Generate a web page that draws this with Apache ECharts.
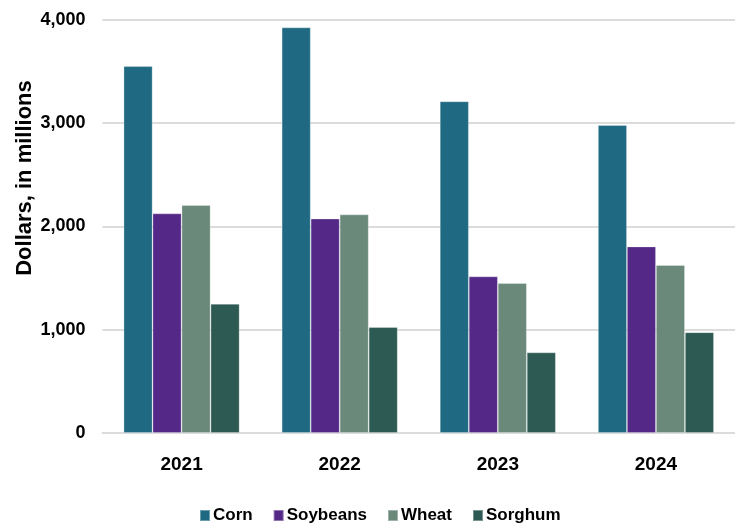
<!DOCTYPE html>
<html>
<head>
<meta charset="utf-8">
<script src="https://cdn.jsdelivr.net/npm/echarts@6/dist/echarts.min.js"></script>
<style>
  html, body { margin: 0; padding: 0; background: #fff; }
  #chart { width: 735px; height: 523px; }
</style>
</head>
<body>
<div id="chart"></div>
<script>
// Crop sales by year, dollars in millions
const years = ['2021', '2022', '2023', '2024'];
const corn = [3550, 3925, 3210, 2980];
const soybeans = [2125, 2075, 1515, 1805];
const wheat = [2205, 2115, 1450, 1625];
const sorghum = [1250, 1025, 780, 975];
const yTicks = { min: 0, max: 4000, interval: 1000 };

const seriesNames = ['Corn', 'Soybeans', 'Wheat', 'Sorghum'];
const seriesValues = [corn, soybeans, wheat, sorghum];
const seriesColors = ['#1f6a82', '#532886', '#6b897a', '#2d5a53'];

const baseFont = '"Liberation Sans", Arial, sans-serif';

const chart = echarts.init(document.getElementById('chart'), null, { renderer: 'canvas' });

chart.setOption({
  animation: false,
  backgroundColor: '#ffffff',
  grid: { left: 102.5, top: 19.7, width: 640, height: 413.3 },
  legend: {
    data: seriesNames,
    left: 194,
    top: 502,
    itemWidth: 10,
    itemHeight: 11,
    itemGap: 20,
    icon: 'rect',
    textStyle: {
      fontFamily: baseFont,
      fontWeight: 'bold',
      fontSize: 17,
      color: '#000',
      padding: [0, 0, 0, -2]
    }
  },
  xAxis: {
    type: 'category',
    data: years,
    axisTick: { show: false },
    axisLine: { lineStyle: { color: '#dcdcdc', width: 2 } },
    axisLabel: {
      margin: 22,
      fontFamily: baseFont,
      fontWeight: 'bold',
      fontSize: 19,
      color: '#000'
    }
  },
  yAxis: {
    type: 'value',
    min: yTicks.min,
    max: yTicks.max,
    interval: yTicks.interval,
    axisLine: { show: false },
    axisTick: { show: false },
    splitLine: { lineStyle: { color: '#dcdcdc', width: 2 } },
    axisLabel: {
      margin: 17,
      fontFamily: baseFont,
      fontWeight: 'bold',
      fontSize: 18,
      color: '#000',
      formatter: v => v.toLocaleString('en-US')
    }
  },
  graphic: [{
    type: 'text',
    x: 25,
    y: 178,
    rotation: Math.PI / 2,
    style: {
      text: 'Dollars, in millions',
      fontFamily: baseFont,
      fontWeight: 'bold',
      fontSize: 22,
      fill: '#000',
      align: 'center',
      verticalAlign: 'middle'
    }
  }],
  series: seriesNames.map((name, i) => ({
    name,
    type: 'bar',
    data: seriesValues[i],
    barWidth: 29,
    barGap: '0%',
    itemStyle: {
      color: seriesColors[i],
      borderColor: 'rgba(255,255,255,0.35)',
      borderWidth: 0.8
    }
  }))
});
</script>
</body>
</html>
